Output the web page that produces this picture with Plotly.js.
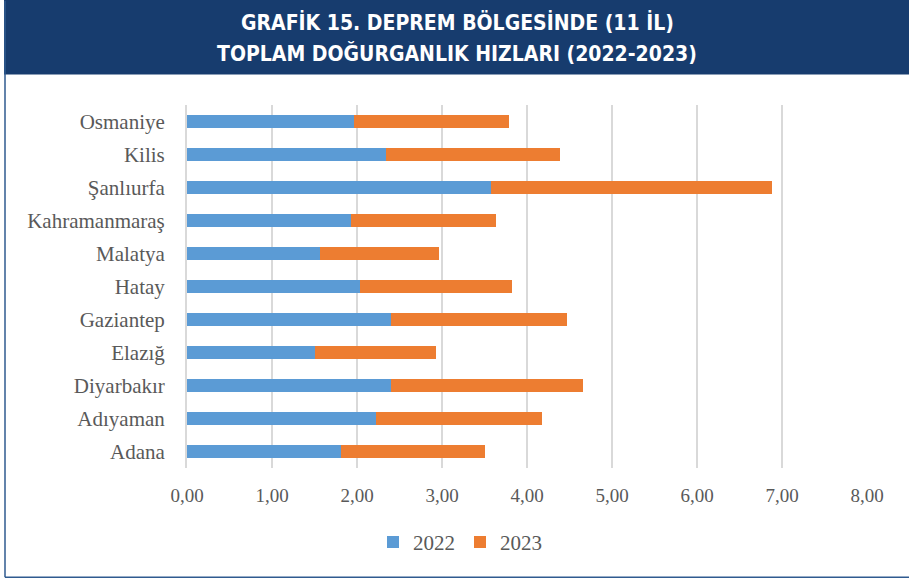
<!DOCTYPE html>
<html>
<head>
<meta charset="utf-8">
<script src="https://cdn.plot.ly/plotly-3.0.1.min.js"></script>
<style>html,body{margin:0;padding:0;background:#fff;}#chart{width:909px;height:580px;}</style>
</head>
<body>
<div id="chart"></div>
<script>
const provinces = ["Osmaniye","Kilis","Şanlıurfa","Kahramanmaraş","Malatya","Hatay","Gaziantep","Elazığ","Diyarbakır","Adıyaman","Adana"];
const values2022 = [1.96, 2.34, 3.58, 1.93, 1.57, 2.04, 2.40, 1.51, 2.40, 2.22, 1.81];
const values2023 = [1.83, 2.05, 3.30, 1.71, 1.39, 1.78, 2.07, 1.42, 2.26, 1.96, 1.69];
const xTickVals = [0,1,2,3,4,5,6,7,8];
const xTickText = ["0,00","1,00","2,00","3,00","4,00","5,00","6,00","7,00","8,00"];
const seriesNames = ["2022","2023"];
const titleLines = ["GRAFİK 15. DEPREM BÖLGESİNDE (11 İL)", "TOPLAM DOĞURGANLIK HIZLARI (2022-2023)"];

const W = 909, H = 580;
const L = 187, R = 867, T = 104.5, B = 468.5;
const px = x => (x - L) / (R - L);
const py = y => (B - y) / (B - T);

const navy = "#173c6e";
const serif = "Liberation Serif, Times New Roman, serif";
const titleFont = {family:"DejaVu Sans Condensed, Roboto, sans-serif", size:21, color:"#ffffff", weight:"bold"};

const traces = [
  {type:"bar", orientation:"h", name:seriesNames[0], y:provinces, x:values2022,
   marker:{color:"#5b9bd5"}},
  {type:"bar", orientation:"h", name:seriesNames[1], y:provinces, x:values2023,
   marker:{color:"#ed7d31"}}
];

const layout = {
  width:W, height:H,
  margin:{l:L, r:W-R, t:T, b:H-B, pad:0},
  paper_bgcolor:"#fff", plot_bgcolor:"#fff",
  barmode:"stack", bargap:0.6,
  showlegend:true,
  legend:{orientation:"h", x:px(460), xanchor:"center", y:py(543), yanchor:"middle",
    font:{family:serif, size:21, color:"#595959"}, traceorder:"normal", itemwidth:30},
  xaxis:{range:[0,8], tickvals:xTickVals, ticktext:xTickText, showgrid:true,
    gridcolor:"#d9d9d9", gridwidth:2, zeroline:false, showline:false, ticks:"",
    ticklabelstandoff:14,
    tickfont:{family:serif, size:19, color:"#595959"}, fixedrange:true},
  yaxis:{autorange:"reversed", type:"category", showgrid:false, zeroline:false,
    showline:true, linecolor:"#d9d9d9", linewidth:2, ticks:"", ticklen:0,
    ticklabelstandoff:16,
    tickfont:{family:serif, size:21, color:"#595959"}},
  annotations:[
    {xref:"paper", yref:"paper", x:px(457), y:py(22), xanchor:"center", yanchor:"middle",
     text:titleLines[0], showarrow:false, font:titleFont},
    {xref:"paper", yref:"paper", x:px(457), y:py(53), xanchor:"center", yanchor:"middle",
     text:titleLines[1], showarrow:false, font:titleFont}
  ],
  shapes:[
    {type:"rect", xref:"paper", yref:"paper", x0:px(4), x1:px(910), y0:py(74), y1:py(-2),
     fillcolor:navy, line:{width:0}, layer:"below"},
    {type:"line", xref:"paper", yref:"paper", x0:px(5), x1:px(5), y0:py(0), y1:py(578),
     line:{color:"#2f5a8f", width:1.5}},
    {type:"line", xref:"paper", yref:"paper", x0:px(5), x1:px(909), y0:py(578), y1:py(578),
     line:{color:"#2f5a8f", width:1.5}}
  ]
};

Plotly.newPlot("chart", traces, layout, {displayModeBar:false, staticPlot:true});
</script>
</body>
</html>
